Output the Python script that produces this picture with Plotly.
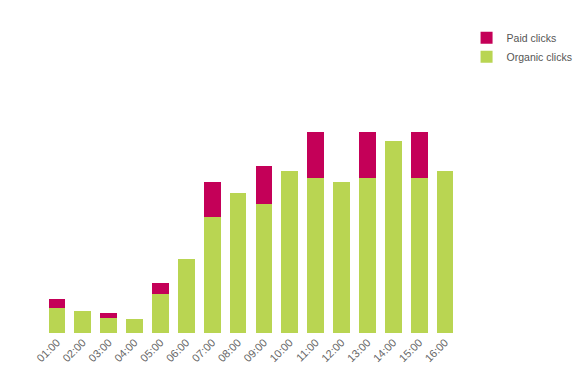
import plotly.graph_objects as go

hours = ["01:00", "02:00", "03:00", "04:00", "05:00", "06:00", "07:00", "08:00",
         "09:00", "10:00", "11:00", "12:00", "13:00", "14:00", "15:00", "16:00"]
organic = [25, 22, 15, 14, 39, 74, 116, 140, 129, 162, 155, 151, 155, 192, 155, 162]
paid = [9, 0, 5, 0, 11, 0, 35, 0, 38, 0, 46, 0, 46, 0, 46, 0]

fig = go.Figure()
fig.add_trace(go.Bar(x=hours, y=organic, name="Organic clicks",
                     marker=dict(color="#B9D552", line=dict(width=0))))
fig.add_trace(go.Bar(x=hours, y=paid, name="Paid clicks",
                     marker=dict(color="#C40058", line=dict(width=0))))

fig.update_layout(
    width=579, height=370,
    barmode="stack", bargap=0.35,
    plot_bgcolor="white", paper_bgcolor="white",
    margin=dict(l=36, r=129, t=105, b=45, autoexpand=False),
    font=dict(family="Liberation Sans, Arial, sans-serif", size=11, color="#555555"),
    showlegend=True,
    legend=dict(traceorder="reversed", xref="container", yref="container",
                x=0.792, y=0.959, xanchor="left", yanchor="top",
                font=dict(size=10.5, color="#555555"), itemwidth=30,
                tracegroupgap=4, bgcolor="rgba(0,0,0,0)"),
    xaxis=dict(showgrid=False, showline=False, zeroline=False, ticks="",
               tickangle=-45, tickfont=dict(size=11, color="#666666")),
    yaxis=dict(range=[0, 220], visible=False, showgrid=False, zeroline=False),
)

fig.write_html("out.html")
